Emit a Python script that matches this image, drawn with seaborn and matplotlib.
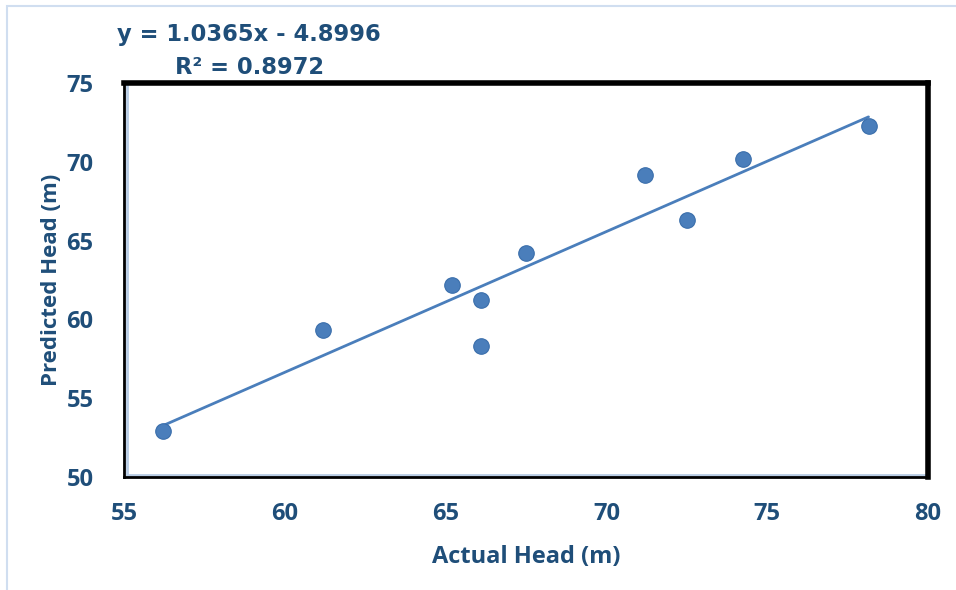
import numpy as np
import pandas as pd
import matplotlib
matplotlib.use("Agg")
import matplotlib.pyplot as plt
from matplotlib.patches import Rectangle
from matplotlib.lines import Line2D
import seaborn as sns

actual_head = [56.2, 61.2, 65.2, 66.1, 66.1, 67.5, 71.2, 72.5, 74.25, 78.15]
predicted_head = [52.9, 59.3, 62.2, 61.2, 58.3, 64.2, 69.15, 66.3, 70.2, 72.3]
trend_x = [56.2, 78.15]
trend_y = [53.25, 72.85]
equation_text = "y = 1.0365x - 4.8996"
r2_text = "R² = 0.8972"
x_ticks = [55, 60, 65, 70, 75, 80]
y_ticks = [50, 55, 60, 65, 70, 75]

sns.set_theme(style="white")
plt.rcParams['font.family'] = ['Open Sans', 'DejaVu Sans']

text_color = "#1F4E79"
point_color = "#4A7EBB"

fig = plt.figure(figsize=(9.56, 5.90), dpi=100)
ax = fig.add_axes([124/956, 1-477/590, (928-124)/956, (477-83)/590])

df = pd.DataFrame({"Actual": actual_head, "Predicted": predicted_head})
sns.scatterplot(data=df, x="Actual", y="Predicted", ax=ax, color=point_color,
                s=125, edgecolor="#3A6EAB", linewidth=0.8, zorder=3)

trend = pd.DataFrame({"x": trend_x, "y": trend_y})
sns.lineplot(data=trend, x="x", y="y", ax=ax, color=point_color, linewidth=2, zorder=2)

ax.set_xlim(55, 80)
ax.set_ylim(50, 75)
ax.set_xticks(x_ticks)
ax.set_yticks(y_ticks)
ax.tick_params(axis="both", length=0, labelsize=17, labelcolor=text_color)
for lbl in ax.get_xticklabels() + ax.get_yticklabels():
    lbl.set_fontweight("bold")
ax.tick_params(axis="x", pad=18)
ax.tick_params(axis="y", pad=22)

ax.set_xlabel("Actual Head (m)", fontsize=17, fontweight="bold", color=text_color, labelpad=14)
ax.set_ylabel("Predicted Head (m)", fontsize=16, fontweight="bold", color=text_color, labelpad=3)

for side in ["top", "right"]:
    ax.spines[side].set_color("black")
    ax.spines[side].set_linewidth(4)
for side in ["left", "bottom"]:
    ax.spines[side].set_color("black")
    ax.spines[side].set_linewidth(2)
ax.add_line(Line2D([0.004, 0.004], [0.006, 1], transform=ax.transAxes, color="#B8CCE4", lw=2, clip_on=False))
ax.add_line(Line2D([0.004, 1], [0.006, 0.006], transform=ax.transAxes, color="#B8CCE4", lw=2, clip_on=False))

fig.patches.append(Rectangle((7/956, -0.1), 1.2, 1 - 6/590 + 0.1, transform=fig.transFigure,
                             fill=False, edgecolor="#D0DEF0", linewidth=1.5))

fig.text(117/956, 1-35/590, equation_text, fontsize=16.3, fontweight="heavy",
         color=text_color, ha="left", va="center", family=["DejaVu Sans"])
fig.text(175/956, 1-67/590, r2_text, fontsize=16.3, fontweight="heavy",
         color=text_color, ha="left", va="center", family=["DejaVu Sans"])

fig.savefig("out.png", dpi=100)
